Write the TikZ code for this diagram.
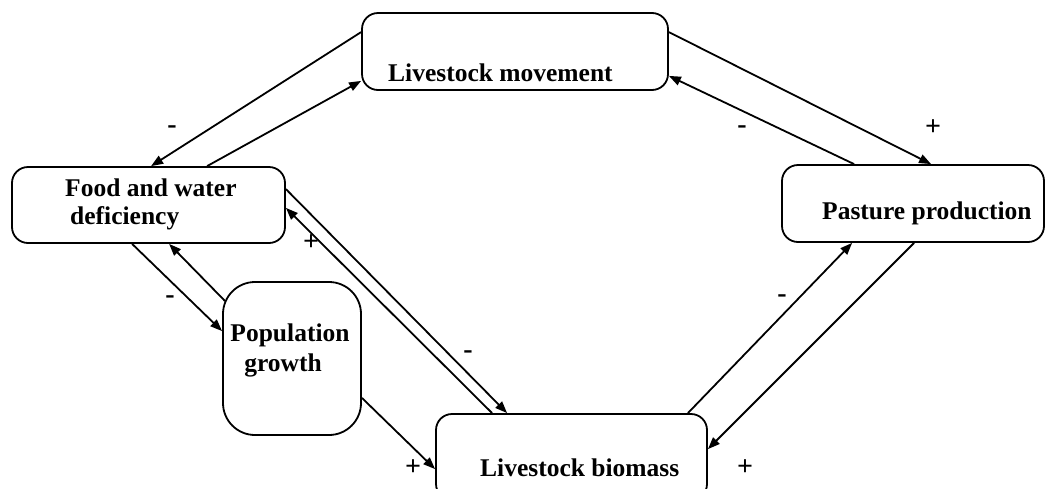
\documentclass[tikz,border=0pt]{standalone}
\usepackage{fontspec}
\setmainfont{Liberation Serif}
\usetikzlibrary{arrows.meta}
\tikzset{
  box/.style={draw, line width=1.8pt, rounded corners=16pt, inner sep=0pt},
  tbox/.style={font=\bfseries\fontsize{25.5}{30}\selectfont, inner sep=0pt},
  sign/.style={font=\bfseries\fontsize{28}{32}\selectfont, inner sep=0pt},
  link/.style={line width=1.8pt, -{Triangle[length=12pt,width=9pt]}}
}
\begin{document}
\begin{tikzpicture}[x=1pt,y=-1pt]
\useasboundingbox (0,0) rectangle (1046,488);
% boxes
\node[box, minimum width=306pt, minimum height=77pt] (lm) at (515,51.5) {};
\node[box, minimum width=273pt, minimum height=76pt] (food) at (148.5,205) {};
\node[box, minimum width=262pt, minimum height=77pt] (pas) at (913,203.5) {};
\node[box, rounded corners=32pt, minimum width=138pt, minimum height=153pt] (pop) at (292,358.5) {};
\node[box, minimum width=271pt, minimum height=86pt] (bio) at (571.5,457) {};
% texts
\node[tbox, anchor=west] (lmt) at (388,73) {Livestock movement};
\node[tbox, anchor=west] (past) at (822,213) {Pasture production};
\node[tbox, anchor=west] (biot) at (480,468) {Livestock biomass};
\node[tbox, anchor=west] (foodt1) at (65,188) {Food and water};
\node[tbox, anchor=west] (foodt2) at (70,218) {deficiency};
\node[tbox] (popt1) at (290,335) {Population};
\node[tbox] (popt2) at (283,365) {growth};
% connectors
\draw[link] ([yshift=-20pt]lm.north west) -- ([xshift=140pt]food.north west);
\draw[link] ([xshift=196pt]food.north west) -- ([yshift=10pt]lm.south west);
\draw[link] ([yshift=-20pt]lm.north east) -- ([xshift=150pt]pas.north west);
\draw[link] ([xshift=73pt]pas.north west) -- ([yshift=15pt]lm.south east);
\draw[link] ([xshift=-20pt]bio.north east) -- ([xshift=71pt]pas.south west);
\draw[link] ([xshift=133pt]pas.south west) -- ([yshift=-36pt]bio.north east);
\draw[link] ([yshift=-23pt]food.north east) -- ([xshift=72pt]bio.north west);
\draw[link] ([xshift=57pt]bio.north west) -- ([yshift=36pt]food.south east);
\draw[link] ([xshift=121pt]food.south west) -- ([yshift=-50pt]pop.north west);
\draw[link] ([xshift=3pt,yshift=-20pt]pop.north west) -- ([xshift=158pt]food.south west);
\draw[link] ([yshift=38pt]pop.south east) -- ([yshift=-56pt]bio.north west);
% signs
\node[sign] (s1) at (172,130) {-};
\node[sign] (s2) at (933,128) {+};
\node[sign] (s3) at (742,130) {-};
\node[sign] (s4) at (782,299) {-};
\node[sign] (s5) at (745,468) {+};
\node[sign] (s6) at (468,355) {-};
\node[sign] (s7) at (311,243) {+};
\node[sign] (s8) at (170,300) {-};
\node[sign] (s9) at (413,468) {+};
\end{tikzpicture}
\end{document}
